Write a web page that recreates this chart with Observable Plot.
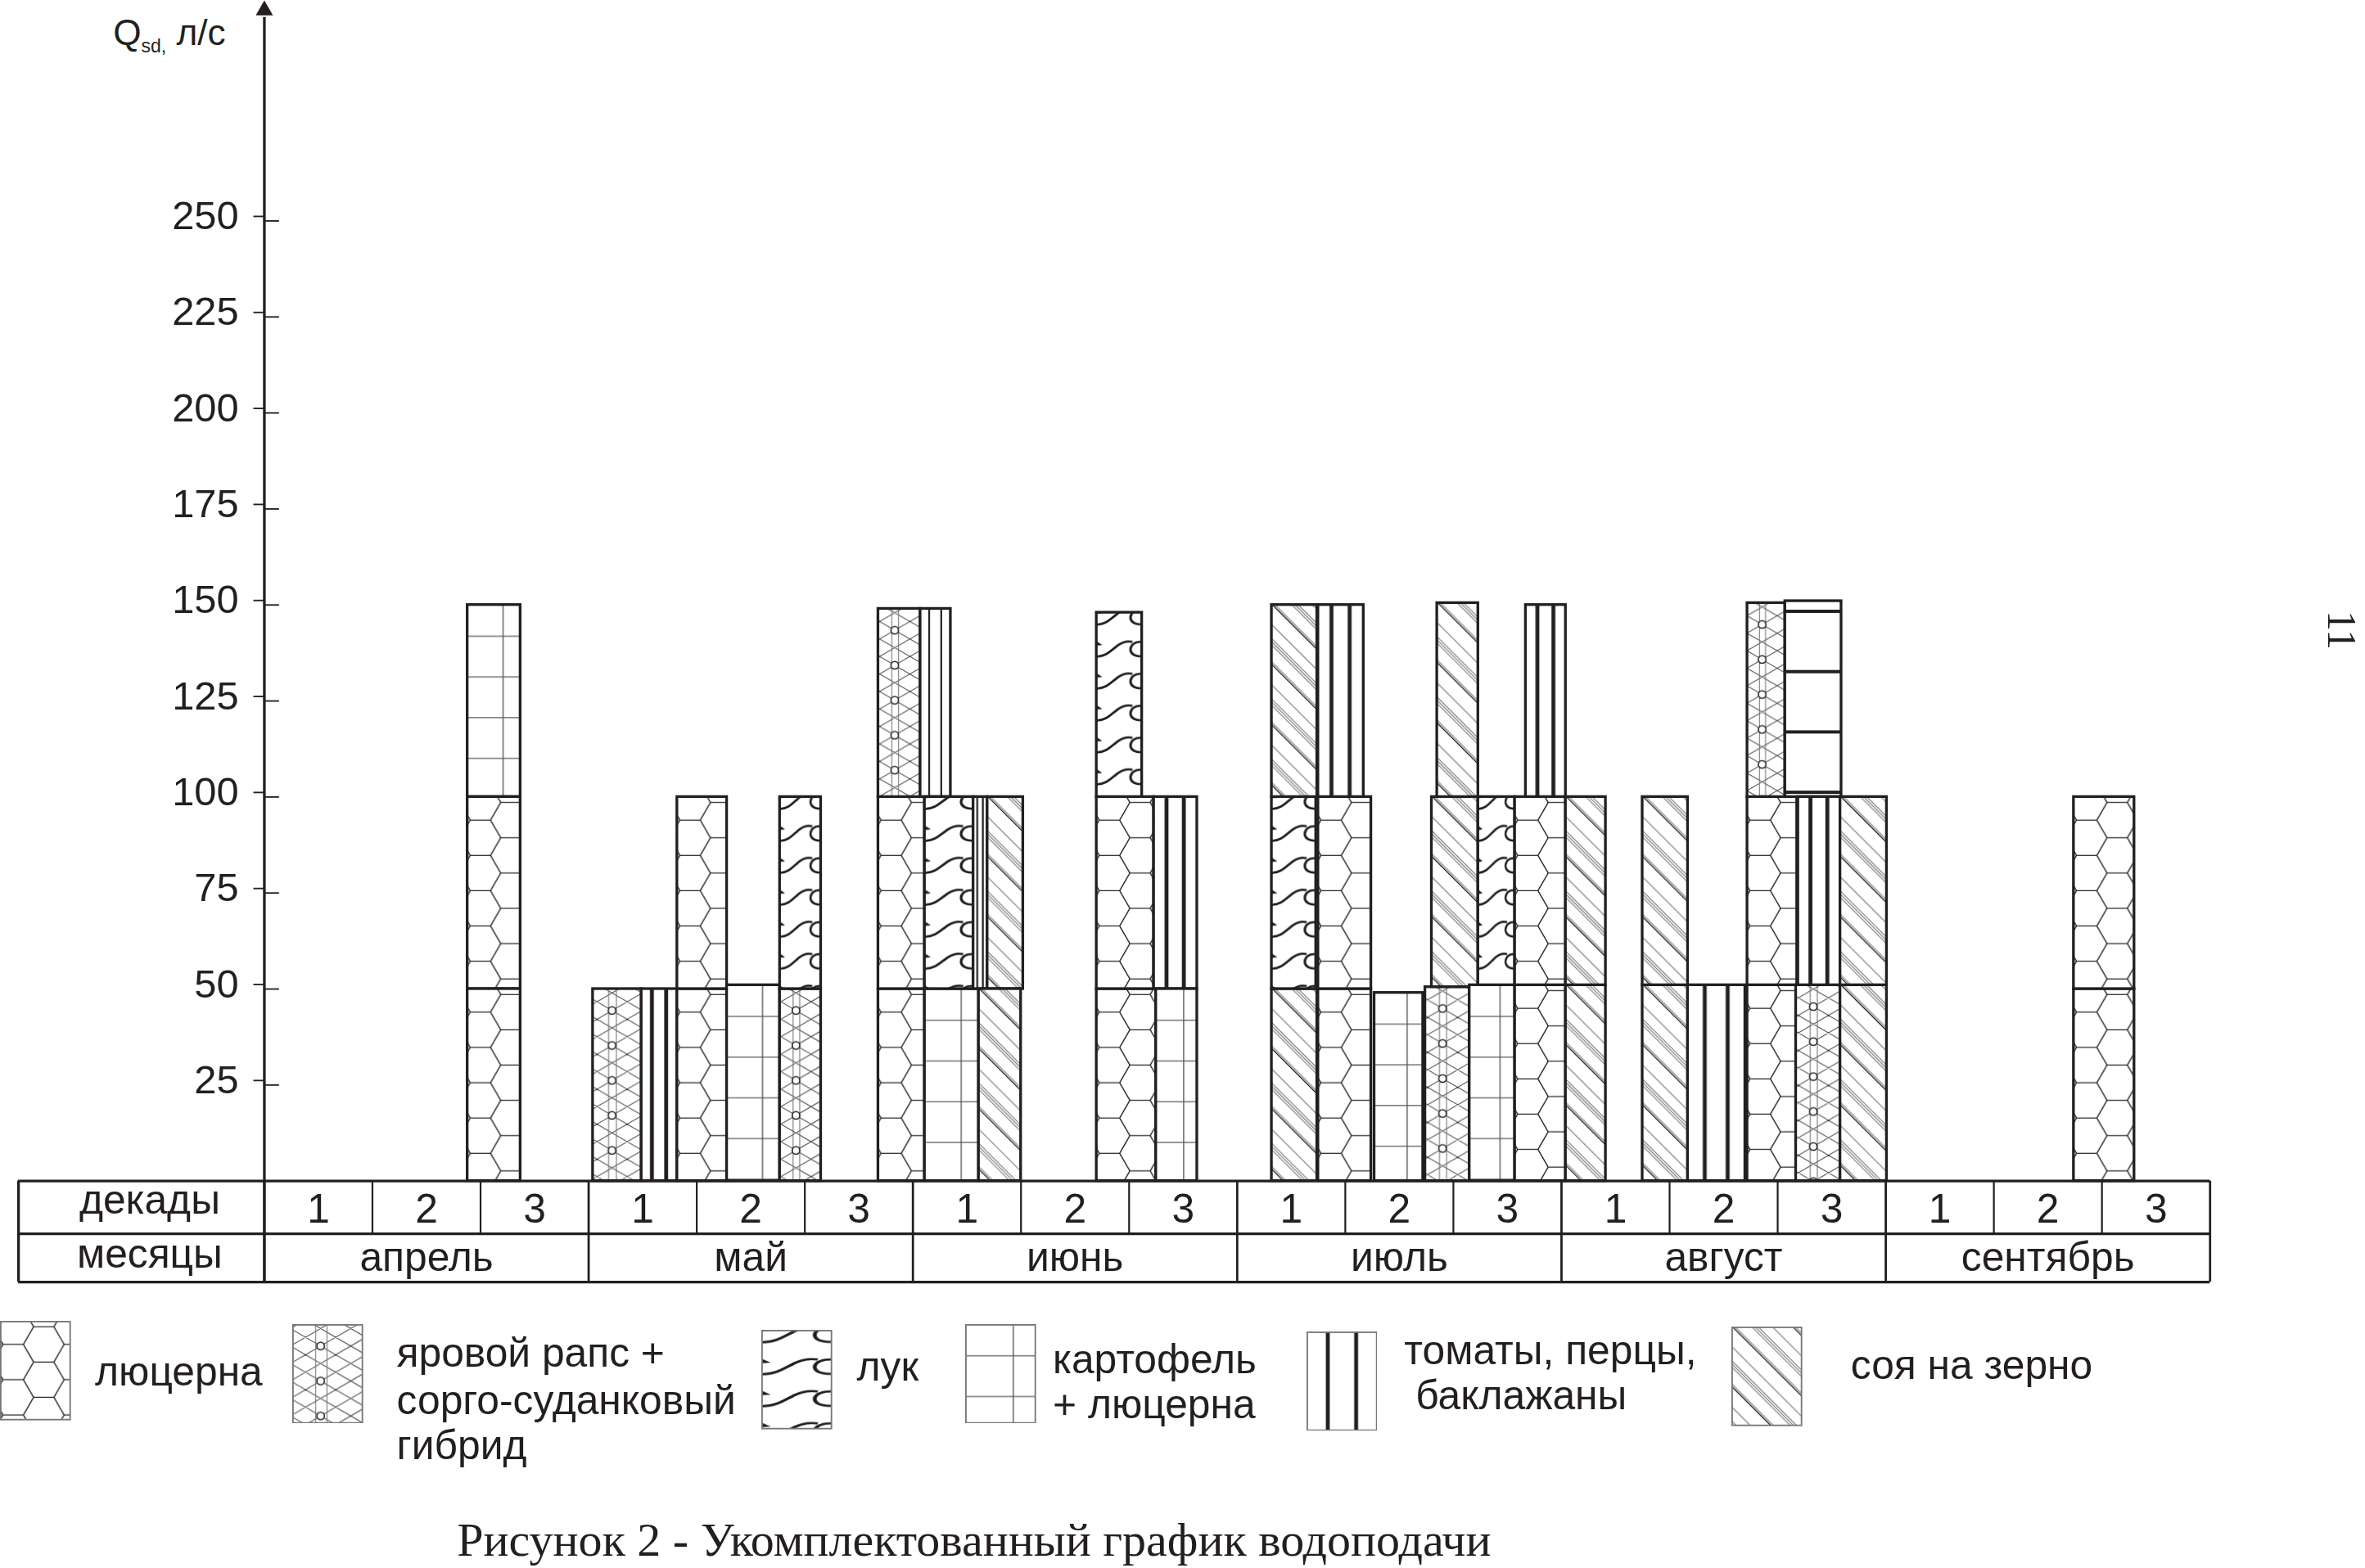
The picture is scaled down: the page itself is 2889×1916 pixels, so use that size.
<!DOCTYPE html>
<html>
<head>
<meta charset="utf-8">
<script src="https://cdn.jsdelivr.net/npm/d3@7"></script>
<script src="https://cdn.jsdelivr.net/npm/@observablehq/plot@0.6"></script>
<style>
html, body { margin: 0; padding: 0; background: #fff; }
#page { position: relative; width: 2889px; height: 1916px; overflow: hidden; background: #fff;
  font-family: "Liberation Sans", Arial, sans-serif; color: #231f20; }
#chart svg { display: block; }
.lg-text { position: absolute; white-space: pre; line-height: 1.15; }
.lg-swatch { position: absolute; display: block; }
#caption { position: absolute; white-space: pre; font-family: "Liberation Serif", "Times New Roman", serif; line-height: 1; }
#pagenum { position: absolute; font-family: "Liberation Serif", "Times New Roman", serif; line-height: 1; transform-origin: 50% 50%; }
</style>
</head>
<body>
<div id="page">
  <div id="chart"></div>
  <div id="legend"></div>
  <div id="caption"></div>
  <div id="pagenum"></div>
</div>
<script>
// ---------------- data ----------------
const yTickValues = [25, 50, 75, 100, 125, 150, 175, 200, 225, 250];
const decadeLabels = ["1", "2", "3"];
const monthLabels = ["апрель", "май", "июнь", "июль", "август", "сентябрь"];
const rowLabels = ["декады", "месяцы"];
const axisTitle = ["Q", "sd,", " л/с"];
const cropKeys = ["lucerne", "rapeseed", "onion", "potato", "tomato", "soy"];
const cropLegendLines = [
  ["люцерна"],
  ["яровой рапс +", "сорго-суданковый", "гибрид"],
  ["лук"],
  ["картофель", "+ люцерна"],
  ["томаты, перцы,", " баклажаны"],
  ["соя на зерно"]
];
const captionText = "Рисунок 2 - Укомплектованный график водоподачи";
const pageNumber = "11";

// supply blocks: crop, start / end (days from 1 April), lower / upper discharge (l/s)
const blockCrop = [
  "potato", "lucerne", "lucerne",
  "rapeseed", "tomato", "lucerne", "lucerne", "potato", "rapeseed", "onion",
  "lucerne", "lucerne", "rapeseed", "tomato", "potato", "onion", "tomato", "soy", "soy",
  "lucerne", "lucerne", "onion", "tomato", "potato",
  "soy", "onion", "soy", "lucerne", "lucerne", "tomato",
  "potato", "rapeseed", "soy", "soy", "potato", "onion",
  "lucerne", "lucerne", "tomato", "soy", "soy",
  "soy", "soy", "tomato", "lucerne", "lucerne", "rapeseed", "potato", "rapeseed", "tomato", "soy", "soy",
  "lucerne", "lucerne"
];
const blockStart = [
  18.8, 18.8, 18.8,
  30.4, 34.9, 38.2, 38.2, 42.8, 47.7, 47.7,
  56.8, 56.8, 56.8, 60.7, 61.1, 61.1, 65.6, 66.9, 66.1,
  77.0, 77.0, 77.0, 82.3, 82.5,
  93.2, 93.2, 93.2, 97.5, 97.5, 97.5,
  102.7, 107.4, 108.0, 108.5, 111.5, 112.3,
  115.7, 115.7, 116.7, 120.4, 120.4,
  127.5, 127.5, 131.7, 137.2, 137.2, 137.2, 140.7, 141.7, 141.9, 145.8, 145.8,
  167.4, 167.4
];
const blockEnd = [
  23.7, 23.7, 23.7,
  34.9, 38.2, 42.8, 42.8, 47.7, 51.5, 51.5,
  61.1, 61.1, 60.7, 63.5, 66.1, 65.6, 66.9, 70.2, 70.0,
  82.5, 82.3, 81.2, 86.3, 86.3,
  97.4, 97.3, 97.4, 102.4, 102.4, 101.7,
  107.2, 111.5, 112.3, 112.3, 115.7, 115.7,
  120.4, 120.4, 120.4, 124.1, 124.1,
  131.7, 131.7, 137.0, 141.8, 141.8, 140.7, 145.9, 145.8, 145.8, 150.1, 150.1,
  173.0, 173.0
];
const blockLow = [
  100, 50, 0,
  0, 0, 0, 50, 0, 0, 50,
  0, 50, 100, 100, 0, 50, 50, 50, 0,
  0, 50, 100, 50, 0,
  0, 50, 100, 0, 50, 100,
  0, 0, 50.5, 100, 0, 51,
  0, 51, 100, 0, 51,
  0, 51, 0, 0, 51, 100, 100, 0, 51, 0, 51,
  0, 50
];
const blockHigh = [
  150, 100, 50,
  50, 50, 50, 100, 51, 50, 100,
  50, 100, 149, 149, 50, 100, 100, 100, 50,
  50, 100, 148, 100, 50,
  50, 100, 150, 50, 100, 150,
  49, 50.5, 100, 150.5, 51, 100,
  51, 100, 150, 51, 100,
  51, 100, 51, 51, 100, 150.5, 151, 51, 100, 51, 100,
  50, 100
];

// ---------------- layout / style ----------------
const S = 2889 / 1568;            // reference drawn on a 1568-wide grid
const INK = "#231f20";
const dayPx = (1465 - 175) / 180;  // grid px per day
const unitPx = 2.547;              // grid px per l/s
const dx = x => (x - 175) / dayPx; // grid x -> day
const vy = y => (783 - y) / unitPx; // grid y -> l/s
const boldBlocks = new Set([47]);

const blocks = blockCrop.map((crop, i) => ({
  crop, start: blockStart[i], end: blockEnd[i], low: blockLow[i], high: blockHigh[i]
}));
const decadeCells = monthLabels.flatMap((m, mi) =>
  decadeLabels.map((label, di) => ({label, mid: mi * 30 + di * 10 + 5})));
const monthEdges = d3.range(0, 181, 30);
const decadeEdges = d3.range(10, 180, 10).filter(t => t % 30 !== 0);

const H = Math.round(858 * S);
const marginBottom = H - 783 * S;
const tableFont = 27 * S;

const plot = Plot.plot({
  width: 2889,
  height: H,
  marginLeft: 175 * S,
  marginRight: 2889 - 1465 * S,
  marginTop: 0,
  marginBottom,
  x: {domain: [0, 180], axis: null, label: null},
  y: {domain: [0, vy(0)], axis: null, label: null},
  color: {type: "identity"},
  style: {fontFamily: '"Liberation Sans", Arial, sans-serif', fontSize: `${tableFont}px`, color: INK, background: "white", overflow: "visible"},
  marks: [
    // blocks
    Plot.rect(blocks, {x1: "start", x2: "end", y1: "low", y2: "high",
      fill: (b, i) => `url(#blk${i})`, stroke: INK, strokeWidth: 1.8 * S}),
    // y axis
    Plot.axisY(yTickValues, {anchor: "left", label: null, tickSize: 7 * S, tickPadding: 10 * S,
      fontSize: 26.5 * S, tickFormat: d => String(d), color: INK, strokeWidth: 1 * S, dy: -3 * S}),
    Plot.ruleY(yTickValues, {x1: 0, x2: dx(185), stroke: INK, strokeWidth: 1 * S}),
    Plot.ruleX([0], {y1: vy(850), y2: 303, stroke: INK, strokeWidth: 1.8 * S}),
    Plot.dot([0], {x: 0, y: vy(6.6), symbol: "triangle", r: 7.8, fill: INK, stroke: null}),
    // table
    Plot.ruleY([0, vy(818), vy(850)], {x1: dx(12), x2: 180, stroke: INK, strokeWidth: 1.8 * S}),
    Plot.ruleX(monthEdges, {y1: vy(850), y2: 0, stroke: INK, strokeWidth: 1.5 * S}),
    Plot.ruleX([dx(12)], {y1: vy(850), y2: 0, stroke: INK, strokeWidth: 1.8 * S}),
    Plot.ruleX(decadeEdges, {y1: vy(818), y2: 0, stroke: INK, strokeWidth: 1.2 * S}),
    Plot.text(decadeCells, {x: "mid", y: vy(802), text: "label", fontSize: tableFont, fill: INK}),
    Plot.text(monthLabels, {x: (m, i) => i * 30 + 15, y: vy(834), text: d => d, fontSize: tableFont, fill: INK}),
    Plot.text(rowLabels, {x: dx(99), y: (r, i) => i ? vy(832) : vy(796), text: d => d, fontSize: tableFont, fill: INK})
  ]
});

// ---------------- patterns ----------------
function hexPath(cx, cy, r, h) {
  return `M${cx - r},${cy}L${cx - r / 2},${cy - h / 2}L${cx + r / 2},${cy - h / 2}L${cx + r},${cy}L${cx + r / 2},${cy + h / 2}L${cx - r / 2},${cy + h / 2}Z`;
}
function patternSpec(crop, bw, bold) {
  if (crop === "lucerne") {
    const r = 13.5, h = 23.4, W = 40.5;
    return {w: W, h, draw: g => {
      const c = [];
      for (const k of [-1, 0, 1]) {
        c.push([8.75, 3.9 + k * h], [8.75 + W, 3.9 + k * h], [29, 15.6 + k * h], [29 - W, 15.6 + k * h]);
      }
      g.append("path").attr("d", c.map(([x, y]) => hexPath(x, y, r, h)).join(""))
        .attr("stroke", INK).attr("stroke-width", 0.75);
    }};
  }
  if (crop === "rapeseed") {
    const per = 23.2, half = 11.6, cx = 0.4 * bw, cy = 14.5, s = 0.58;
    return {w: bw, h: per, draw: g => {
      let d = "";
      for (let k = -6; k <= 6; k++) {
        const y0 = cy + k * half;
        d += `M0,${y0 - s * cx}L${bw},${y0 + s * (bw - cx)}`;
        d += `M0,${y0 + s * cx}L${bw},${y0 - s * (bw - cx)}`;
      }
      g.append("path").attr("d", d).attr("stroke", "#444").attr("stroke-width", 0.55);
      g.append("path").attr("d", `M${0.33 * bw},0V${per}M${0.49 * bw},0V${per}`)
        .attr("stroke", "#777").attr("stroke-width", 0.6);
      for (const y of [cy - per, cy]) {
        g.append("circle").attr("cx", cx).attr("cy", y).attr("r", 2.5)
          .attr("fill", "white").attr("stroke", INK).attr("stroke-width", 0.9);
      }
    }};
  }
  if (crop === "onion") {
    const per = 21.2, sx = bw / 27;
    return {w: bw, h: per, draw: g => {
      for (const yc of [3.5, 3.5 + per]) {
        const gg = g.append("g").attr("transform", `translate(0,${yc}) scale(${sx},1)`);
        gg.append("path").attr("d", "M0,4.8C5.5,4.8 8.5,1 12,-2C15,-4.8 18.5,-5.8 21.5,-5")
          .attr("stroke", INK).attr("stroke-width", 1.5).attr("fill", "none");
        gg.append("path").attr("d", "M27,-5C22.5,-5.4 20,-2.4 20.4,0.6C20.8,3.4 23.6,4.8 27,4.4")
          .attr("stroke", INK).attr("stroke-width", 1.5).attr("fill", "none");
        gg.append("path").attr("d", "M0,-5.6L3.6,-3L0,-2.4Z").attr("fill", INK);
      }
    }};
  }
  if (crop === "potato") {
    if (bold) {
      return {w: bw, h: 40, draw: g => {
        g.append("path").attr("d", `M0,7H${bw}`).attr("stroke", INK).attr("stroke-width", 2.2);
      }};
    }
    return {w: bw, h: 27, draw: g => {
      g.append("path").attr("d", `M0,21H${bw}`).attr("stroke", "#555").attr("stroke-width", 0.75);
      g.append("path").attr("d", `M${0.68 * bw},0V27`).attr("stroke", "#555").attr("stroke-width", 0.75);
    }};
  }
  if (crop === "tomato") {
    const sw = bw < 22 ? 1.2 : 2.6;
    return {w: bw, h: 10, draw: g => {
      g.append("path").attr("d", `M${0.3 * bw},0V10M${0.7 * bw},0V10`).attr("stroke", INK).attr("stroke-width", sw);
    }};
  }
  // soy: diagonal hatch "\" at 45°
  return {w: 28.3, h: 20, rotate: -45, draw: g => {
    g.append("path").attr("d", "M0.3,0V20").attr("stroke", INK).attr("stroke-width", 0.85);
    g.append("path").attr("d", "M1.6,0V20M9.5,0V20M11,0V20M12.5,0V20M19.1,0V20")
      .attr("stroke", "#808080").attr("stroke-width", 0.65);
  }};
}
function addPattern(defs, id, crop, bw, ox, oy, bold) {
  const spec = patternSpec(crop, bw, bold);
  const p = defs.append("pattern").attr("id", id).attr("patternUnits", "userSpaceOnUse")
    .attr("x", 0).attr("y", 0).attr("width", spec.w * S).attr("height", spec.h * S)
    .attr("patternTransform", `translate(${ox},${oy})` + (spec.rotate ? ` rotate(${spec.rotate})` : ""));
  p.append("rect").attr("width", spec.w * S).attr("height", spec.h * S).attr("fill", "white");
  const g = p.append("g").attr("transform", `scale(${S})`).attr("fill", "none");
  spec.draw(g);
}

const xs = plot.scale("x"), ys = plot.scale("y");
const X = v => xs.apply(v), Y = v => ys.apply(v);
const svg = d3.select(plot);
const defs = svg.insert("defs", ":first-child");
blocks.forEach((b, i) => {
  const xl = X(b.start), xr = X(b.end), yt = Y(b.high);
  addPattern(defs, "blk" + i, b.crop, (xr - xl) / S, xl, yt, boldBlocks.has(i));
});

// axis title with subscript
const qt = svg.append("text").attr("x", 75 * S).attr("y", 30 * S)
  .attr("text-anchor", "start").attr("fill", INK)
  .style("font-size", `${24 * S}px`)
  .style("font-family", '"Liberation Sans", Arial, sans-serif');
qt.append("tspan").text(axisTitle[0]);
qt.append("tspan").style("font-size", `${12.5 * S}px`).attr("dy", 5 * S).text(axisTitle[1]);
qt.append("tspan").attr("dy", -5 * S).text(axisTitle[2]);

document.getElementById("chart").appendChild(plot);

// ---------------- legend ----------------
const legendLayout = [
  {sx: 0, sy: 876, tx: 63, ty: [912]},
  {sx: 194, sy: 878, tx: 263, ty: [900, 931, 961]},
  {sx: 505, sy: 882, tx: 568, ty: [909]},
  {sx: 640, sy: 878, tx: 698, ty: [904, 934]},
  {sx: 866, sy: 883, tx: 931, ty: [898, 928]},
  {sx: 1148, sy: 880, tx: 1227, ty: [908]}
];
const legend = d3.select("#legend");
const lgFont = 27 * S;
cropKeys.forEach((crop, i) => {
  const L = legendLayout[i];
  const sw = 47, sh = 66;
  const s = legend.append("svg").attr("class", "lg-swatch")
    .attr("width", sw * S).attr("height", sh * S)
    .style("left", `${L.sx * S}px`).style("top", `${L.sy * S}px`);
  const dd = s.append("defs");
  addPattern(dd, "leg" + i, crop, sw, 0, 0, false);
  s.append("rect").attr("x", 0.5 * S).attr("y", 0.5 * S).attr("width", (sw - 1) * S).attr("height", (sh - 1) * S)
    .attr("fill", `url(#leg${i})`).attr("stroke", "#777").attr("stroke-width", 1 * S);
  cropLegendLines[i].forEach((line, j) => {
    legend.append("div").attr("class", "lg-text").text(line)
      .style("font-size", `${lgFont}px`)
      .style("left", `${L.tx * S}px`)
      .style("top", `${L.ty[j] * S - 0.66 * lgFont}px`);
  });
});

// caption
const capFont = 31.5 * S;
d3.select("#caption").text(captionText)
  .style("font-size", `${capFont}px`)
  .style("left", `${303 * S}px`)
  .style("top", `${1032 * S - 0.8375 * capFont}px`);

// page number (rotated)
const pnFont = 27 * S;
d3.select("#pagenum").text(pageNumber)
  .style("font-size", `${pnFont}px`)
  .style("left", `${1553 * S - pnFont * 0.5}px`)
  .style("top", `${418 * S - pnFont * 0.5}px`)
  .style("transform", "rotate(90deg)");
</script>
</body>
</html>
